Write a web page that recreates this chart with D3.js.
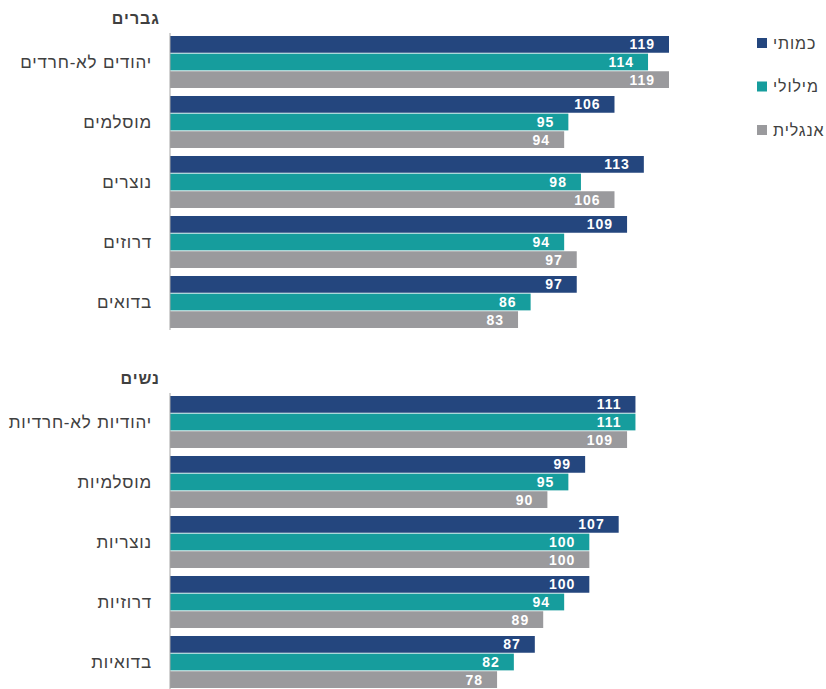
<!DOCTYPE html>
<html><head><meta charset="utf-8">
<script src="https://cdn.jsdelivr.net/npm/d3@7"></script>
<style>body{margin:0;background:#fff}svg{display:block;font-family:"Liberation Sans",Arial,sans-serif}</style>
</head><body><svg id="c" width="826" height="689"></svg>
<script>
const series = ["כמותי","מילולי","אנגלית"];
const colors = ["#24467e","#169d9d","#9a9a9d"];
const panelTitles = ["גברים","נשים"];
const menCategories = ["יהודים לא-חרדים","מוסלמים","נוצרים","דרוזים","בדואים"];
const womenCategories = ["יהודיות לא-חרדיות","מוסלמיות","נוצריות","דרוזיות","בדואיות"];
const menQuant = [119,106,113,109,97];
const menVerbal = [114,95,98,94,86];
const menEnglish = [119,94,106,97,83];
const womenQuant = [111,99,107,100,87];
const womenVerbal = [111,95,100,94,82];
const womenEnglish = [109,90,100,89,78];

const panels = [
  {title: panelTitles[0], cats: menCategories, vals: [menQuant, menVerbal, menEnglish], top: 32, titleY: 24},
  {title: panelTitles[1], cats: womenCategories, vals: [womenQuant, womenVerbal, womenEnglish], top: 392, titleY: 384}
];

const svg = d3.select("#c");
const x = d3.scaleLinear().domain([0,119]).range([170,669]);
const inner = d3.scaleBand().domain(series).range([0,52]).paddingInner(0.05);

panels.forEach(p => {
  const y = d3.scaleBand().domain(p.cats).range([p.top, p.top+300]).paddingInner(8/60).paddingOuter(4/60);
  const g = svg.append("g");
  g.append("text").attr("x",160).attr("y",p.titleY).attr("text-anchor","end")
    .attr("font-size",16).attr("font-weight","bold").attr("letter-spacing",1).attr("fill","#404040").text(p.title);
  p.cats.forEach((c,i) => {
    g.append("text").attr("x",152).attr("y",y(c)+y.bandwidth()/2).attr("dy","0.35em")
      .attr("text-anchor","end").attr("font-size",17).attr("letter-spacing",0.8).attr("fill","#404040").text(c);
    series.forEach((s,j) => {
      const v = p.vals[j][i];
      const by = y(c)+inner(s);
      g.append("rect").attr("x",x(0)).attr("y",by).attr("width",x(v)-x(0)).attr("height",inner.bandwidth()).attr("fill",colors[j]);
      g.append("text").attr("x",x(v)-14).attr("y",by+inner.bandwidth()/2).attr("dy","0.36em")
        .attr("text-anchor","end").attr("font-size",14).attr("font-weight","bold").attr("letter-spacing",1).attr("fill","#fff").text(v);
    });
  });
  g.append("line").attr("x1",x(0)).attr("x2",x(0)).attr("y1",p.top+1).attr("y2",p.top+298)
    .attr("stroke","#a6a6a6").attr("stroke-width",1);
});

const leg = svg.append("g");
series.forEach((s,j) => {
  const ly = 43 + j*43.5;
  leg.append("rect").attr("x",757).attr("y",ly-5).attr("width",10).attr("height",10).attr("fill",colors[j]);
  leg.append("text").attr("x",773).attr("y",ly).attr("dy","0.35em").attr("text-anchor","start")
    .attr("font-size",16).attr("letter-spacing",0.9).attr("fill","#404040").text(s);
});
</script></body></html>
